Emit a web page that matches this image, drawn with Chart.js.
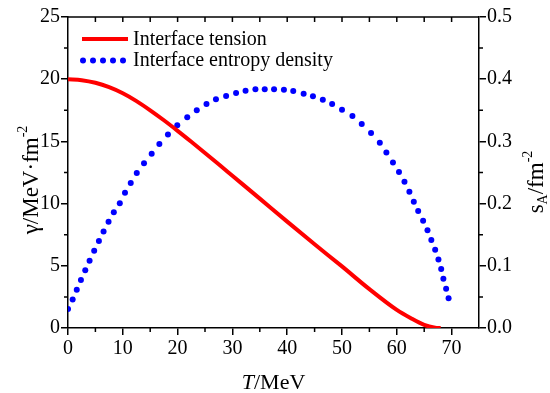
<!DOCTYPE html>
<html>
<head>
<meta charset="utf-8">
<script src="https://cdn.jsdelivr.net/npm/chart.js@4/dist/chart.umd.min.js"></script>
<style>
  html, body { margin: 0; padding: 0; background: #fff; }
  #wrap { width: 550px; height: 393px; }
</style>
</head>
<body>
<div id="wrap"><canvas id="myChart"></canvas></div>
<script>
// interface tension (left axis)
const tensionT = [0, 2.5, 5, 7.5, 10, 12.5, 15, 17.5, 20, 22.5, 25, 27.5, 30, 35, 40, 45, 50, 55, 60, 62.5, 65, 67, 68];
const tensionGamma = [20.0, 19.92, 19.71, 19.36, 18.87, 18.24, 17.5, 16.7, 15.85, 14.97, 14.07, 13.16, 12.24, 10.4, 8.55, 6.73, 4.95, 3.12, 1.45, 0.8, 0.25, 0.03, 0];

// interface entropy density (right axis)
const entropyT = [0, 0.85, 1.6, 2.36, 3.15, 3.94, 4.78, 5.64, 6.49, 7.4, 8.36, 9.45, 10.4, 11.45, 12.55, 13.87, 15.27, 16.67, 18.24, 19.94,
    21.76, 23.5, 25.27, 27.0, 28.85, 30.67, 32.4, 34.2, 35.9, 37.6, 39.4, 41.1, 43.0, 44.7, 46.5, 48.2, 50.0, 51.9, 53.6, 55.3,
    56.9, 58.1, 59.3, 60.4, 61.4, 62.3, 63.1, 63.9, 64.8, 65.6, 66.3, 67.0, 67.6, 68.1, 68.5, 69.0, 69.45];
const entropySA = [0.0305, 0.046, 0.0616, 0.077, 0.093, 0.108, 0.124, 0.140, 0.155, 0.171, 0.186, 0.2005, 0.2175, 0.233, 0.249, 0.265, 0.280, 0.296, 0.311, 0.326,
    0.339, 0.350, 0.360, 0.3677, 0.373, 0.378, 0.3815, 0.3837, 0.384, 0.384, 0.383, 0.381, 0.3767, 0.3725, 0.367, 0.360, 0.351, 0.341, 0.328, 0.3135,
    0.298, 0.282, 0.266, 0.251, 0.235, 0.219, 0.203, 0.188, 0.1725, 0.157, 0.1415, 0.126, 0.110, 0.095, 0.079, 0.063, 0.048];

const labels = ['Interface tension', 'Interface entropy density'];

const SERIF = "'Liberation Serif', 'Times New Roman', serif";

function drawParts(ctx, parts, x, y) {
    // draws a row of text pieces centred on x, baseline y
    let total = 0;
    parts.forEach(p => { ctx.font = p.font; p.w = ctx.measureText(p.t).width; total += p.w; });
    let cx = x - total / 2;
    ctx.textAlign = 'left';
    ctx.textBaseline = 'alphabetic';
    parts.forEach(p => {
        ctx.font = p.font;
        ctx.fillText(p.t, cx, y + (p.dy || 0));
        cx += p.w;
    });
}

const decorations = {
    id: 'decorations',
    afterDatasetsDraw(chart) {
        const {ctx, chartArea: a, scales} = chart;
        ctx.save();
        ctx.strokeStyle = '#000';
        ctx.lineWidth = 1.5;

        // top frame line
        ctx.beginPath();
        ctx.moveTo(a.left, a.top);
        ctx.lineTo(a.right, a.top);
        ctx.stroke();

        ctx.beginPath();
        // top ticks (inward)
        for (let v = 5; v < 75; v += 5) {
            const px = scales.x.getPixelForValue(v);
            ctx.moveTo(px, a.top);
            ctx.lineTo(px, a.top + 5);
        }
        // minor ticks
        for (let v = 5; v < 75; v += 10) {
            const px = scales.x.getPixelForValue(v);
            ctx.moveTo(px, a.bottom);
            ctx.lineTo(px, a.bottom + 4);
        }
        for (let v = 2.5; v < 25; v += 5) {
            const py = scales.y.getPixelForValue(v);
            ctx.moveTo(a.left, py);
            ctx.lineTo(a.left - 4, py);
        }
        for (let v = 0.05; v < 0.5; v += 0.1) {
            const py = scales.y1.getPixelForValue(v);
            ctx.moveTo(a.right, py);
            ctx.lineTo(a.right + 4, py);
        }
        ctx.stroke();

        // legend
        const ds = chart.data.datasets;
        const lx = a.left + 14;
        ctx.strokeStyle = ds[0].borderColor;
        ctx.lineWidth = 4;
        ctx.beginPath();
        ctx.moveTo(lx, a.top + 22);
        ctx.lineTo(lx + 46, a.top + 22);
        ctx.stroke();
        ctx.fillStyle = ds[1].backgroundColor;
        for (let i = 0; i < 5; i++) {
            ctx.beginPath();
            ctx.arc(lx + 1 + i * 10, a.top + 43.5, 3, 0, Math.PI * 2);
            ctx.fill();
        }
        ctx.fillStyle = '#000';
        ctx.font = '20px ' + SERIF;
        ctx.textBaseline = 'middle';
        ctx.fillText(ds[0].label, lx + 51, a.top + 23);
        ctx.fillText(ds[1].label, lx + 51, a.top + 43.5);

        // axis titles
        drawParts(ctx, [
            {t: 'T', font: 'italic 22px ' + SERIF},
            {t: '/MeV', font: '22px ' + SERIF}
        ], (a.left + a.right) / 2, 389);

        ctx.save();
        ctx.translate(38, 180);
        ctx.rotate(-Math.PI / 2);
        drawParts(ctx, [
            {t: 'γ/MeV·fm', font: '23px ' + SERIF},
            {t: '-2', font: '14px ' + SERIF, dy: -11}
        ], 0, 0);
        ctx.restore();

        ctx.save();
        ctx.translate(543, 182);
        ctx.rotate(-Math.PI / 2);
        drawParts(ctx, [
            {t: 's', font: '23px ' + SERIF},
            {t: 'A', font: '14px ' + SERIF, dy: 4},
            {t: '/fm', font: '23px ' + SERIF},
            {t: '-2', font: '14px ' + SERIF, dy: -11}
        ], 0, 0);
        ctx.restore();

        ctx.restore();
    }
};

const axisGrid = {
    drawOnChartArea: false,
    drawTicks: true,
    tickLength: 7,
    color: '#000',
    lineWidth: 1.5
};
const axisBorder = { display: true, color: '#000', width: 1.5 };
const tickFont = { family: SERIF, size: 20 };

new Chart(document.getElementById('myChart'), {
    type: 'scatter',
    data: {
        datasets: [{
            label: labels[0],
            data: tensionT.map((t, i) => ({x: t, y: tensionGamma[i]})),
            showLine: true,
            borderColor: '#ff0000',
            backgroundColor: '#ff0000',
            borderWidth: 4,
            pointRadius: 0,
            cubicInterpolationMode: 'monotone',
            yAxisID: 'y'
        }, {
            label: labels[1],
            data: entropyT.map((t, i) => ({x: t, y: entropySA[i]})),
            showLine: false,
            backgroundColor: '#0000ff',
            borderColor: '#0000ff',
            borderWidth: 0,
            pointRadius: 3,
            yAxisID: 'y1'
        }]
    },
    options: {
        responsive: true,
        maintainAspectRatio: false,
        animation: false,
        events: [],
        layout: { padding: { top: 17, left: 0, right: 0, bottom: 0 } },
        plugins: {
            legend: { display: false },
            tooltip: { enabled: false }
        },
        scales: {
            x: {
                type: 'linear',
                min: 0,
                max: 75,
                grid: axisGrid,
                border: axisBorder,
                ticks: { stepSize: 10, includeBounds: false, color: '#000', font: tickFont, padding: 2, maxRotation: 0 },
                afterFit: s => { s.height = 65; }
            },
            y: {
                position: 'left',
                min: 0,
                max: 25,
                grid: axisGrid,
                border: axisBorder,
                ticks: { stepSize: 5, color: '#000', font: tickFont, padding: 1 },
                afterFit: s => { s.width = 68; }
            },
            y1: {
                position: 'right',
                min: 0,
                max: 0.5,
                grid: axisGrid,
                border: axisBorder,
                ticks: {
                    stepSize: 0.1,
                    color: '#000',
                    font: tickFont,
                    padding: 1,
                    callback: v => v.toFixed(1)
                },
                afterFit: s => { s.width = 71; }
            }
        }
    },
    plugins: [decorations]
});
</script>
</body>
</html>
